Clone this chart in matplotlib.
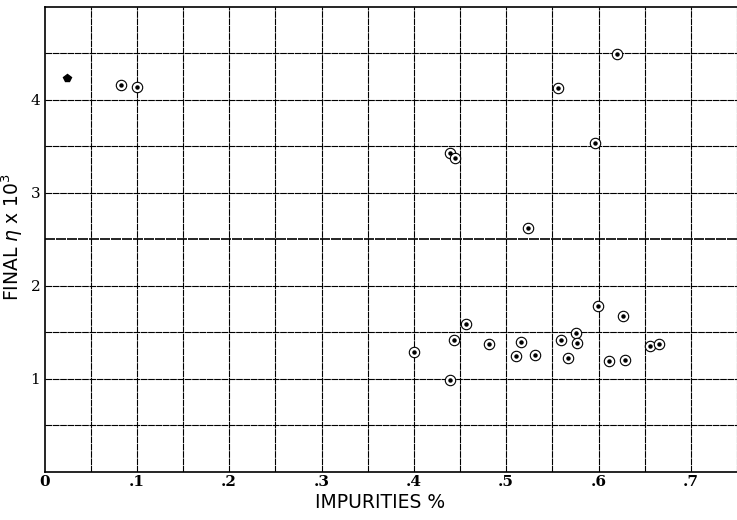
import numpy as np
import matplotlib.pyplot as plt

# circled-dot observations (impurities %, final eta x 10^3)
imp = [0.083, 0.100, 0.620, 0.556, 0.5965, 0.439, 0.445, 0.524,
       0.400, 0.439, 0.443, 0.456, 0.481, 0.516, 0.511, 0.531,
       0.559, 0.576, 0.577, 0.567, 0.599, 0.626, 0.611, 0.629,
       0.656, 0.665]
eta = [4.16, 4.14, 4.49, 4.13, 3.53, 3.43, 3.37, 2.62,
       1.29, 0.99, 1.42, 1.59, 1.38, 1.40, 1.25, 1.26,
       1.42, 1.49, 1.39, 1.23, 1.78, 1.68, 1.19, 1.20,
       1.35, 1.37]

# odd mark near the top-left corner
imp_odd = [0.024]
eta_odd = [4.23]

xticks = [0, 0.1, 0.2, 0.3, 0.4, 0.5, 0.6, 0.7]
xlabels = ['0', '.1', '.2', '.3', '.4', '.5', '.6', '.7']
yticks = [1, 2, 3, 4]

fig = plt.figure(figsize=(7.37, 5.20), dpi=100)
ax = fig.add_axes([0.0604, 0.0923, 0.9396, 0.895])

for xv in np.arange(0.05, 0.76, 0.05):
    ax.axvline(xv, color='black', lw=0.8, ls=(0, (6, 0.6)))
for yv in np.arange(0.5, 4.6, 0.5):
    lw = 1.2 if abs(yv - 2.5) < 1e-6 else 0.8
    ax.axhline(yv, color='black', lw=lw, ls=(0, (6, 0.6)))

ax.plot(imp, eta, 'o', ms=7.5, mfc='white', mec='black', mew=0.8, zorder=3)
ax.plot(imp, eta, 'o', ms=2.2, color='black', zorder=4)
ax.plot(imp_odd, eta_odd, marker='p', ms=6, color='black', zorder=4)

ax.set_xlim(0, 0.75)
ax.set_ylim(0, 5)
ax.set_xticks(xticks)
ax.set_xticklabels(xlabels, family='DejaVu Serif', fontsize=11, fontweight='bold')
ax.set_yticks(yticks)
ax.set_yticklabels([str(v) for v in yticks], family='DejaVu Serif', fontsize=11)
ax.tick_params(length=0, pad=3)
ax.tick_params(axis='x', pad=2)

for s in ['left', 'bottom', 'top']:
    ax.spines[s].set_linewidth(1.2)
ax.spines['right'].set_visible(False)

ax.set_xlabel('IMPURITIES %', fontsize=13.5, family='DejaVu Sans')
ax.xaxis.set_label_coords(0.484, -0.046)
ax.set_ylabel(r'FINAL $\eta$ x 10$^3$', fontsize=13.5, family='DejaVu Sans')
ax.yaxis.set_label_coords(-0.028, 0.505)

fig.savefig('out.png', dpi=100)
